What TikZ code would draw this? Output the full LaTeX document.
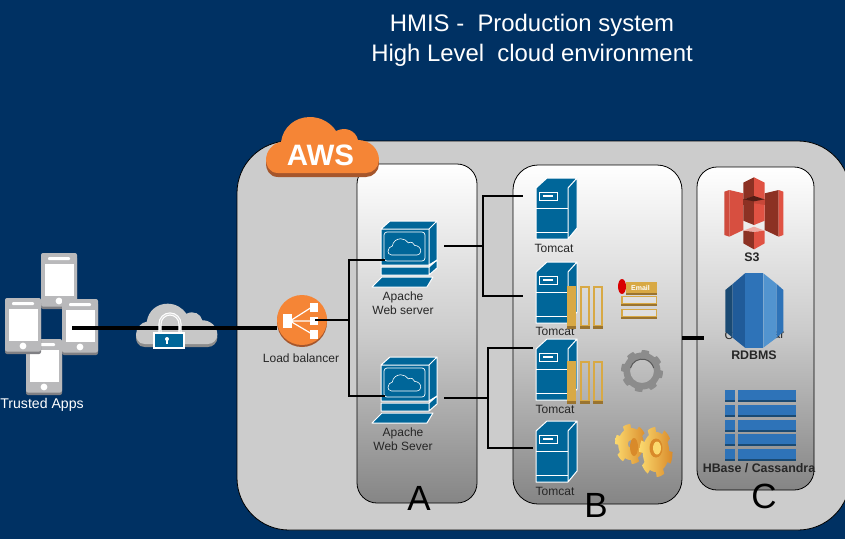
\documentclass[tikz,border=0pt]{standalone}
\usepackage{fontspec}
\setmainfont{Liberation Sans}
\usepackage{tikz}
\usetikzlibrary{positioning,calc}

\definecolor{navybg}{HTML}{003163}
\definecolor{panelgray}{HTML}{CCCCCC}
\definecolor{panelbottom}{HTML}{858585}
\definecolor{iconblue}{HTML}{006699}
\definecolor{awsorange}{HTML}{F58536}
\definecolor{awsshade}{HTML}{A5562C}
\definecolor{ramgold}{HTML}{D8A945}
\definecolor{ramdark}{HTML}{9A7430}
\definecolor{phonegray}{HTML}{B9B9BB}
\definecolor{phoneshade}{HTML}{808084}
\definecolor{s3red}{HTML}{E05243}
\definecolor{s3dark}{HTML}{8C3123}
\definecolor{dbdark}{HTML}{1A4A73}
\definecolor{dbmid}{HTML}{205B99}
\definecolor{dbblue}{HTML}{2E73B8}
\definecolor{dblight}{HTML}{5294CF}
\definecolor{goldlight}{HTML}{FBD96E}
\definecolor{golddark}{HTML}{D98A2A}

\begin{document}
\begin{tikzpicture}[
  x=1pt, y=-1pt,
  panel/.style={rectangle, draw=black, line width=0.8pt, top color=white, bottom color=panelbottom,
                middle color=panelgray, inner sep=0},
  iconbox/.style={rectangle, inner sep=0},
  lbl/.style={font=\fontsize{12}{14}\selectfont, text=black!85, align=center, inner sep=0},
  storelbl/.style={font=\fontsize{12.4}{14}\selectfont\bfseries, text=black!85, inner sep=0},
  zonelbl/.style={font=\fontsize{35}{38}\selectfont, text=black, inner sep=0},
  titlelbl/.style={font=\fontsize{23.9}{30}\selectfont, text=white, inner sep=0},
  link/.style={draw=black, line width=1.6pt},
  fatlink/.style={draw=black, line width=3.4pt},
  pics/cloudshape/.style={code={
    \path[pic actions] (12,0) .. controls (3,0) and (0,-8) .. (0,-13) .. controls (0,-22) and (7,-30) .. (15,-31)
      .. controls (17,-46) and (29,-56) .. (44,-56) .. controls (55,-56) and (65,-50) .. (70,-42)
      .. controls (80,-47) and (90,-42) .. (92,-33) .. controls (104,-33) and (113,-24) .. (113,-13)
      .. controls (113,-6) and (107,0) .. (100,0) -- cycle;
  }},
  pics/servericon/.style={code={
    \draw[fill=iconblue, draw=white, line width=1pt, line join=round]
      (0,10) -- (11,0) -- (41,0) -- (32,10) -- (32,61) -- (0,61) -- cycle
      (32,10) -- (41,0) -- (41,50) -- (32,61);
    \draw[white, line width=1pt] (0,30) -- (32,30) (0,54) -- (32,54);
    \draw[white, line width=1pt] (3,14) rectangle (21,22);
    \fill[white] (7,17) rectangle (17,19);
  }},
  pics/desktopicon/.style={code={
    \draw[fill=iconblue, draw=white, line width=1pt, line join=round]
      (9,8) -- (18,0) -- (65,0) -- (57,8) -- cycle
      (57,8) -- (65,0) -- (65,39) -- (57,44) -- cycle
      (9,8) rectangle (57,44)
      (9,46) rectangle (57,54)
      (57,46) -- (65,39) -- (65,47) -- (57,54) -- cycle
      (0,66) -- (10,56) -- (61,56) -- (55,66) -- cycle;
    \draw[white, line width=0.7pt, rounded corners=3pt] (12,11) rectangle (53,40);
    \pic[draw=white, line width=0.6pt, scale=.29] at (16,34) {cloudshape};
  }},
  pics/phoneicon/.style={code={
    \fill[phoneshade, rounded corners=2pt] (0,3) rectangle (36,56);
    \fill[phonegray, rounded corners=2pt] (0,0) rectangle (36,53.5);
    \fill[white] (3.5,11) rectangle (32.5,43);
    \fill[white, rounded corners=1pt] (7,4) rectangle (29,7);
    \fill[white] (18,48) circle (3.4);
  }},
  pics/ramicon/.style={code={
    \fill[ramgold] (0,0) rectangle (9,43);
    \fill[ramdark] (0,40) rectangle (9,43);
    \foreach \barx in {13,26} {
      \draw[ramgold, line width=1.6pt] (\barx+.8,.8) rectangle (\barx+9.2,40);
      \fill[ramdark] (\barx,40) rectangle (\barx+10,43);
    }
  }},
  pics/gearicon/.style n args={5}{code={
    \path[#4, even odd rule] plot[domain=0:360, samples=145] (\x:{ifthenelse(mod(\x,#5)<#5/2,#1,#2)}) -- cycle
      (0,0) circle (#3);
  }},
  pics/loadicon/.style={code={
    \draw[white, line width=1.2pt] (-12,1) -- (10,-13) (-12,1) -- (10,1) (-12,1) -- (10,14);
    \fill[white] (-19,-6) rectangle (-10,8);
    \fill[white] (8,-17) rectangle (16,-8);
    \fill[white] (8,-3) rectangle (16,5);
    \fill[white] (8,10) rectangle (16,19);
  }},
]

\useasboundingbox (0,0) rectangle (845,539);
\fill[navybg] (0,0) rectangle (845,539);

% text on top
\node[titlelbl] (title1) at (532,25.5) {HMIS -\ \ Production system};
\node[titlelbl] (title2) at (532,55.5) {High Level\ \ cloud environment};

% panels
\node[rectangle, draw=black, line width=0.8pt, fill=panelgray, rounded corners=52pt, inner sep=0,
      minimum width=613pt, minimum height=389pt] (aws) at (543.5,335.5) {};
\node[panel, rounded corners=20pt, minimum width=120pt, minimum height=339pt] (zoneA) at (417,333.5) {};
\node[panel, rounded corners=25pt, minimum width=169pt, minimum height=339pt] (zoneB) at (597.5,334.5) {};
\node[panel, rounded corners=20pt, minimum width=117pt, minimum height=323pt] (zoneC) at (755.5,328.5) {};

\pic[fill=awsshade] at (266,177) {cloudshape};
\pic[fill=awsorange] at (266,173) {cloudshape};
\node[font=\fontsize{29.5}{34}\selectfont\bfseries, text=white, inner sep=0] (awslbl) at (320.5,155.5) {AWS};

% trusted apps
\pic at (41,253) {phoneicon};
\pic at (26,339) {phoneicon};
\pic at (62,299) {phoneicon};
\pic at (5,298) {phoneicon};
\node[iconbox, minimum width=93pt, minimum height=142pt] (apps) at (51.5,324) {};
\node[lbl, text=white, font=\fontsize{14.1}{16}\selectfont] (appslbl) at (42,405) {Trusted Apps};

% secure cloud
\pic[fill=black!45, scale=.72] at (136,347) {cloudshape};
\pic[fill=black!22, scale=.72] at (136,344) {cloudshape};
\node[iconbox, minimum width=81pt, minimum height=46pt] (gateway) at (176.5,324) {};

% load balancer
\fill[awsshade] (302,322) circle (25);
\node[circle, fill=awsorange, minimum size=50pt, inner sep=0] (lb) at (302,320) {};
\pic at (302,320) {loadicon};
\node[lbl] (lblabel) at (301,358) {Load balancer};

\draw[fatlink] ([xshift=20.5pt,yshift=-4pt]apps.center) -- ([yshift=-4pt]gateway.center);
\draw[fatlink] ([yshift=-4pt]gateway.center) -- ([yshift=-8pt]lb.west);

% lock over the line
\draw[white, line width=3.2pt] (160,334) -- (160,324) arc[start angle=180, end angle=360, radius=10] -- (180,334);
\draw[black!15, line width=1pt] (160,334) -- (160,324) arc[start angle=180, end angle=360, radius=10] -- (180,334);
\draw[fill=iconblue, draw=white, line width=1.2pt] (154,333) rectangle (184,348);
\fill[white] (167,339) circle (2);
\fill[white] (166.3,339) rectangle (167.7,344);

% web servers
\pic at (372,221) {desktopicon};
\pic at (372,357) {desktopicon};
\node[iconbox, minimum width=59pt, minimum height=66pt] (web1) at (414.5,254) {};
\node[iconbox, minimum width=59pt, minimum height=66pt] (web2) at (414.5,390) {};
\node[lbl] (web1lbl) at (403,303.5) {Apache\\Web server};
\node[lbl] (web2lbl) at (403,439.5) {Apache\\Web Sever};

% tomcats
\pic at (536,178) {servericon};
\pic at (536,262) {servericon};
\pic at (536,339) {servericon};
\pic at (536,421) {servericon};
\node[iconbox, minimum width=41pt, minimum height=61pt] (tomcat1) at (556.5,208.5) {};
\node[iconbox, minimum width=41pt, minimum height=61pt] (tomcat2) at (556.5,292.5) {};
\node[iconbox, minimum width=41pt, minimum height=61pt] (tomcat3) at (556.5,369.5) {};
\node[iconbox, minimum width=41pt, minimum height=61pt] (tomcat4) at (556.5,451.5) {};
\node[lbl] (tomcat1lbl) at (554,248) {Tomcat};
\node[lbl] (tomcat2lbl) at (555,331) {Tomcat};
\node[lbl] (tomcat3lbl) at (555,409) {Tomcat};
\node[lbl] (tomcat4lbl) at (555,491) {Tomcat};

\pic at (567,286) {ramicon};
\pic at (567,361) {ramicon};

% email
\fill[ramgold] (626,282) rectangle (657,293);
\fill[ramdark] (626,293) rectangle (657,295);
\node[font=\fontsize{7}{8}\selectfont\bfseries, text=white, inner sep=0] (emaillbl) at (640.5,287.5) {Email};
\fill[red!85!black] (622,286.5) ellipse (4 and 7.5);
\foreach \rowy in {296,309} {
  \draw[ramgold, line width=1.2pt, fill=black!12] (622,\rowy+.6) rectangle (656.5,\rowy+7.5);
  \fill[ramdark] (621.4,\rowy+8) rectangle (657,\rowy+10);
}

% gears
\pic at (642,371) {gearicon={21}{18.5}{12}{fill=black!45}{45}};
\draw[black!65, line width=1pt] (630.5,368) arc[start angle=195, end angle=345, radius=12];
\pic[xscale=.8] at (631,444) {gearicon={20}{16}{4}{left color=goldlight, right color=golddark}{60}};
\fill[golddark] (634,447) ellipse (4 and 9);
\pic[xscale=.66] at (656,452) {gearicon={25}{20}{4}{left color=goldlight, right color=golddark}{60}};
\fill[golddark] (656,448) ellipse (6.5 and 9.5);
\fill[goldlight] (657,448) ellipse (4 and 6.5);

% links
\coordinate (lbbus) at (349,320);
\draw[link] ([xshift=13pt]lb.center) -- (lbbus);
\draw[link] (lbbus) |- ([yshift=-6pt]web1.west);
\draw[link] (lbbus) |- ([yshift=-6pt]web2.west);

\coordinate (bus1) at (483,246);
\coordinate (bus2) at (488,398);
\draw[link] ([yshift=8pt]web1.east) -- (bus1);
\draw[link] ([xshift=-13pt,yshift=12.5pt]tomcat1.west) -| (bus1);
\draw[link] ([xshift=-13pt,yshift=-3.5pt]tomcat2.west) -| (bus1);
\draw[link] ([yshift=-8pt]web2.east) -- (bus2);
\draw[link] ([xshift=-3pt,yshift=21.5pt]tomcat3.west) -| (bus2);
\draw[link] ([xshift=-3pt,yshift=3.5pt]tomcat4.west) -| (bus2);

\coordinate (stubend) at (704,338);
\draw[fatlink] (zoneB.east |- stubend) -- (stubend);

% hidden label and storage
\node[lbl] (dbfrag1) at (729,335) {C};
\node[lbl] (dbfrag2) at (779,335) {ar};
\begin{scope}[shift={(680,160)}, scale=1/3]
  \fill[s3red!80!s3dark] (133,95) -- (148,90) -- (148,230) -- (133,225) -- cycle;
  \fill[s3red!90!s3dark] (148,90) -- (190,100) -- (190,210) -- (148,230) -- cycle;
  \fill[s3dark] (254,100) -- (296,90) -- (296,230) -- (254,210) -- cycle;
  \fill[s3red] (296,90) -- (310,95) -- (310,225) -- (296,230) -- cycle;
  \fill[s3dark] (190,118) rectangle (222,135);
  \fill[s3red!70!s3dark] (222,118) rectangle (254,135);
  \fill[s3dark] (190,68) -- (222,52) -- (222,110) -- (190,118) -- cycle;
  \fill[s3red] (222,52) -- (254,68) -- (254,118) -- (222,110) -- cycle;
  \fill[s3dark!60!black] (190,118) -- (222,108) -- (254,118) -- (222,124) -- cycle;
  \fill[s3dark] (190,135) -- (222,130) -- (222,195) -- (190,182) -- cycle;
  \fill[s3red] (222,130) -- (254,135) -- (254,182) -- (222,195) -- cycle;
  \fill[s3dark] (190,212) -- (222,215) -- (222,268) -- (190,250) -- cycle;
  \fill[s3red] (222,215) -- (254,212) -- (254,250) -- (222,268) -- cycle;
  \fill[s3red!50!white] (190,212) -- (222,200) -- (254,212) -- (222,215) -- cycle;
  % database
  \fill[dbdark] (136,390) -- (158,372) -- (158,533) -- (136,515) -- cycle;
  \fill[dbmid] (158,372) -- (195,340) -- (195,563) -- (158,533) -- cycle;
  \fill[dbblue] (195,340) rectangle (250,563);
  \fill[dblight] (250,340) -- (290,372) -- (290,533) -- (250,563) -- cycle;
  \fill[dbblue] (290,372) -- (310,390) -- (310,515) -- (290,533) -- cycle;
\end{scope}
\node[iconbox, minimum width=58pt, minimum height=72pt] (s3) at (754,231) {};
\node[iconbox, minimum width=58pt, minimum height=74pt] (rdbms) at (754,310) {};
\node[storelbl] (s3lbl) at (752,257) {S3};
\node[storelbl] (rdbmslbl) at (754,355) {RDBMS};

\foreach \rowy in {390,405,420,434,449} {
  \fill[dbblue] (725.3,\rowy) rectangle (735.3,\rowy+12);
  \fill[dbblue] (738,\rowy) rectangle (795.7,\rowy+12);
  \fill[dbdark] (725.3,\rowy+9.5) rectangle (735.3,\rowy+12);
  \fill[dbdark] (738,\rowy+9.5) rectangle (795.7,\rowy+12);
}
\node[iconbox, minimum width=70pt, minimum height=71pt] (hbase) at (760.5,425.5) {};
\node[storelbl] (hbaselbl) at (759,468) {HBase / Cassandra};

% zone letters
\node[zonelbl] (lettera) at (419,498) {A};
\node[zonelbl] (letterb) at (596,505) {B};
\node[zonelbl] (letterc) at (764,496) {C};

\end{tikzpicture}
\end{document}
